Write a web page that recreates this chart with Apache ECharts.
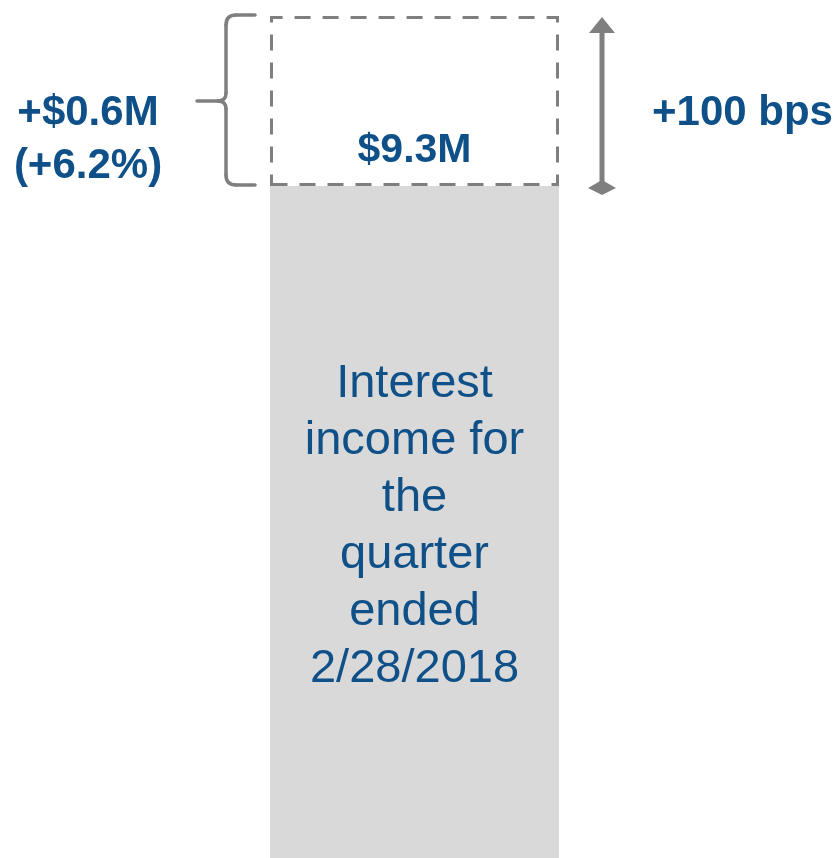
<!DOCTYPE html>
<html>
<head>
<meta charset="utf-8">
<title>Interest income</title>
<script src="https://cdn.jsdelivr.net/npm/echarts@6/dist/echarts.min.js"></script>
<style>
  html, body { margin: 0; padding: 0; background: #fff; }
  #chart { width: 838px; height: 858px; }
</style>
</head>
<body>
<div id="chart"></div>
<script>
// data ($M)
const categories = ['Q1 2018'];
const baseIncome = [8.7];
const increase = [0.6];
const baseLines = ['Interest', 'income for', 'the', 'quarter', 'ended', '2/28/2018'];
const totalText = '$9.3M';
const changeLines = ['+$0.6M', '(+6.2%)'];
const rateText = '+100 bps';

const BLUE = '#0e5087';
const GREY = '#7f7f7f';
const FONT = '"Liberation Sans", Arial, sans-serif';
const gridLeft = 270;
const barW = 289;

const chart = echarts.init(document.getElementById('chart'));

chart.setOption({
  animation: false,
  grid: { left: gridLeft, width: barW, top: 16, bottom: 0 },
  xAxis: { type: 'category', data: categories, show: false },
  yAxis: { type: 'value', min: 6.33, max: 9.3, show: false },
  series: [
    {
      name: 'base',
      type: 'bar',
      stack: 'total',
      barWidth: '100%',
      data: baseIncome,
      itemStyle: { color: '#d9d9d9' },
      label: {
        show: true,
        position: 'inside',
        offset: [0, 4],
        formatter: () => baseLines.join('\n'),
        color: BLUE,
        fontFamily: FONT,
        fontSize: 47,
        lineHeight: 57
      }
    },
    {
      name: 'increase',
      type: 'bar',
      stack: 'total',
      barWidth: '100%',
      data: increase,
      itemStyle: {
        color: 'rgba(0,0,0,0)',
        borderColor: GREY,
        borderWidth: 3,
        borderType: [16, 12]
      },
      label: {
        show: true,
        position: 'inside',
        offset: [0, 50],
        formatter: () => totalText,
        color: BLUE,
        fontFamily: FONT,
        fontWeight: 'bold',
        fontSize: 41
      }
    }
  ]
});

// annotations (bracket, arrow, texts) placed from the bar's pixel positions
function drawAnnotations() {
  const total = baseIncome[0] + increase[0];
  const yTop = chart.convertToPixel({ gridIndex: 0 }, [0, total])[1];
  const yBot = chart.convertToPixel({ gridIndex: 0 }, [0, baseIncome[0]])[1];
  const yMid = (yTop + yBot) / 2;

  const bx = gridLeft - 44;      // vertical of brace
  const tip = gridLeft - 73;     // brace point
  const bEnd = gridLeft - 15;
  const t = yTop - 1, b = yBot - 1;
  const braceStyle = { stroke: GREY, lineWidth: 3.5, fill: null, lineCap: 'round' };
  const seg = (x1, y1, x2, y2) => ({ type: 'line', shape: { x1, y1, x2, y2 }, style: braceStyle });
  const curve = (x1, y1, cx, cy, x2, y2) => ({
    type: 'bezierCurve', shape: { x1, y1, x2, y2, cpx1: cx, cpy1: cy }, style: braceStyle
  });
  const brace = [
    seg(bEnd, t, bx + 10, t),
    curve(bx + 10, t, bx, t, bx, t + 10),
    seg(bx, t + 10, bx, yMid - 8),
    curve(bx, yMid - 8, bx, yMid, bx - 8, yMid),
    seg(bx - 8, yMid, tip, yMid),
    curve(bx - 8, yMid, bx, yMid, bx, yMid + 8),
    seg(bx, yMid + 8, bx, b - 10),
    curve(bx, b - 10, bx, b, bx + 10, b),
    seg(bx + 10, b, bEnd, b)
  ];

  const ax = gridLeft + barW + 43;

  chart.setOption({
    graphic: brace.concat([
      {
        type: 'line',
        shape: { x1: ax, y1: yTop + 14, x2: ax, y2: yBot - 4 },
        style: { stroke: GREY, lineWidth: 5 }
      },
      {
        type: 'polygon',
        shape: { points: [[ax, yTop + 1], [ax - 13, yTop + 17], [ax + 13, yTop + 17]] },
        style: { fill: GREY }
      },
      {
        type: 'polygon',
        shape: { points: [[ax, yBot - 6], [ax + 14, yBot + 2], [ax, yBot + 9], [ax - 14, yBot + 2]] },
        style: { fill: GREY }
      },
      {
        type: 'text',
        style: {
          text: changeLines.join('\n'),
          x: 88, y: yMid + 39,
          align: 'center', verticalAlign: 'middle',
          font: 'bold 42px ' + FONT,
          lineHeight: 53,
          fill: BLUE
        }
      },
      {
        type: 'text',
        style: {
          text: rateText,
          x: ax + 50, y: yMid + 12,
          align: 'left', verticalAlign: 'middle',
          font: 'bold 42px ' + FONT,
          fill: BLUE
        }
      }
    ])
  });
}

drawAnnotations();
</script>
</body>
</html>
